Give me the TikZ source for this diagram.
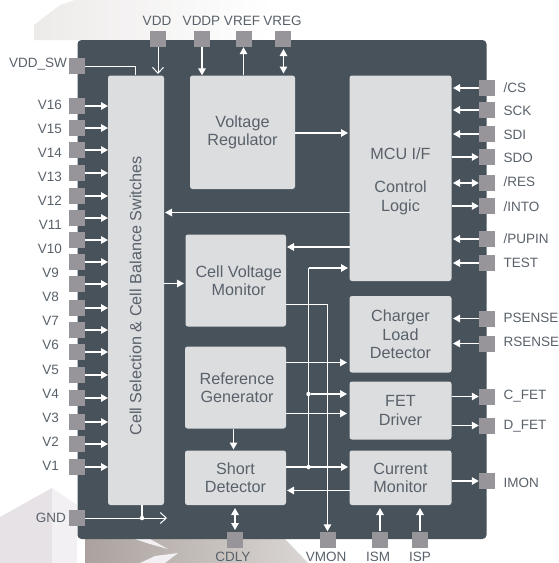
\documentclass[tikz,border=0pt]{standalone}
\usepackage{fontspec}
\setmainfont{Liberation Sans}
\usetikzlibrary{arrows.meta}
\definecolor{chipc}{HTML}{47525B}
\definecolor{blockc}{HTML}{DCDDDF}
\definecolor{pinc}{HTML}{98959A}
\definecolor{textc}{HTML}{59616A}
\definecolor{wmA}{HTML}{EDEBEA}
\definecolor{wmB}{HTML}{E6E2E6}
\definecolor{wmC}{HTML}{F2F0F2}
\definecolor{wmD}{HTML}{ABA29F}
\definecolor{wmE}{HTML}{DAD6D3}
\tikzset{
  x=1pt,y=-1pt,
  block/.style={fill=blockc,rounded corners=2.5pt,inner sep=0pt,align=center,text=textc,font=\fontsize{16.2}{18.5}\selectfont},
  pin/.style={fill=pinc,minimum size=16pt,inner sep=0pt,draw=none},
  lab/.style={text=textc,font=\fontsize{13.5}{15}\selectfont,inner sep=0pt},
  sig/.style={draw=white,line width=1.3pt,-{Triangle[length=7pt,width=7.5pt]}},
  dbl/.style={draw=white,line width=1.3pt,{Triangle[length=7pt,width=7.5pt]}-{Triangle[length=7pt,width=7.5pt]}},
  opn/.style={draw=white,line width=1pt,-{Straight Barb[length=6pt,width=11pt,line width=1pt]}},
  wire/.style={draw=white,line width=1pt},
  jdot/.style={fill=white,circle,minimum size=4.5pt,inner sep=0pt}
}
\newcommand{\boxnode}[6]{\node[block,minimum width=#4pt-#2pt,minimum height=#5pt-#3pt] (#1) at ({(#2+#4)/2},{(#3+#5)/2}) {#6};}
\begin{document}
\begin{tikzpicture}
\useasboundingbox (0,0) rectangle (558,563);
\fill[white] (0,0) rectangle (558,563);
% faint background picture
\shade[left color=wmA,right color=white] (34,25) -- (60,5) -- (75,0) -- (272,0) -- (262,40) -- (34,40) -- cycle;
\fill[wmB] (0,517) -- (52,488) -- (52,563) -- (0,563) -- cycle;
\fill[wmC] (52,488) -- (77,505) -- (77,563) -- (52,563) -- cycle;
\shade[left color=wmD,right color=wmE] (85,539) -- (285,539) -- (308,563) -- (85,563) -- cycle;
\fill[wmC] (135,539) -- (150,539) -- (168,549) -- (150,544) -- cycle;
\fill[wmC] (140,563) -- (155,556) -- (178,553) -- (165,563) -- cycle;
% chip
\fill[chipc,rounded corners=4pt] (77.5,40) -- (486.5,40) -- (486.5,539) -- (77.5,539) -- cycle;
% blocks
\boxnode{cell}{108}{75.5}{164}{505}{}
\node[text=textc,rotate=90,font=\fontsize{16.2}{18}\selectfont,inner sep=0pt] (celltxt) at (135.5,296) {Cell Selection \& Cell Balance Switches};
\boxnode{vreg}{190}{75.5}{295}{189}{Voltage\\Regulator}
\boxnode{mcu}{349.5}{75.5}{451.5}{281}{\rule{0pt}{17.6pt}MCU I/F\\[15pt]Control\\Logic}
\boxnode{cvm}{185.5}{234.5}{286}{326.5}{\hspace*{6pt}Cell Voltage\\\hspace*{6pt}Monitor}
\boxnode{ref}{185}{346.5}{286}{428.5}{\hspace*{3pt}Reference\\\hspace*{3pt}Generator}
\boxnode{short}{185}{450.5}{286}{505}{Short\\Detector}
\boxnode{charger}{349.5}{296}{451.5}{372.5}{Charger\\Load\\Detector}
\boxnode{fet}{349.5}{381.5}{451.5}{439.5}{FET\\Driver}
\boxnode{cur}{349.5}{450.5}{451.5}{505}{Current\\Monitor}
% left pins
\node[pin] (vddsw) at (77,66) {};
\node[lab,anchor=east] (lvddsw) at (67,64.5) {VDD\_SW};
\foreach \n/\y in {a/106,b/128,c/150,d/173,e/196,f/218,g/240,h/262,i/284,j/308,k/330,l/352,m/375,n/398,o/422,p/444,q/467}{
  \node[pin] (pin\n) at (77,\y) {};
  \coordinate (c\n) at (108,\y);
  \draw[sig] (pin\n.east) -- (c\n);
}
\foreach \t/\y/\xx in {V16/105/62,V15/129/62,V14/153/62,V13/177/62,V12/201/62,V11/225/62,V10/249/62,V9/273/59,V8/297/59,V7/321/59,V6/345/59,V5/369.5/59,V4/393.5/59,V3/418/59,V2/442/59,V1/466/59}{
  \node[lab,anchor=east] at (\xx,\y) {\t};
}
\node[pin] (gnd) at (77,518) {};
\node[lab,anchor=east] (lgnd) at (66,518) {GND};
% top pins
\node[pin] (vdd) at (158,39) {};
\node[pin] (vddp) at (202,39) {};
\node[pin] (vrefp) at (243.5,39) {};
\node[pin] (vregp) at (283,39) {};
\node[lab] (lvdd) at (157,21) {VDD};
\node[lab] (lvddp) at (201.5,21) {VDDP};
\node[lab] (lvref) at (242,21) {VREF};
\node[lab] (lvreg) at (282.5,21) {VREG};
% right pins
\foreach \n/\t/\y/\ly in {cs/{/CS}/88/88,sck/SCK/110/111,sdi/SDI/134/135,sdo/SDO/157/158,res/{/RES}/183/182,into/{/INTO}/206/207,pupin/{/PUPIN}/239/239,test/TEST/263/263,psense/PSENSE/318.5/318,rsense/RSENSE/343.5/342,cfet/C\_FET/396.5/396,dfet/D\_FET/425.5/426,imon/IMON/481/483}{
  \node[pin] (\n) at (487,\y) {};
  \node[lab,anchor=west] at (503.5,\ly) {\t};
}
% bottom pins
\node[pin] (cdly) at (235,540) {};
\node[pin] (vmon) at (327.5,539.5) {};
\node[pin] (ism) at (380,539.5) {};
\node[pin] (isp) at (420,539.5) {};
\node[lab] (lcdly) at (233,556.5) {CDLY};
\node[lab] (lvmon) at (326,556.5) {VMON};
\node[lab] (lism) at (378,556.5) {ISM};
\node[lab] (lisp) at (420,556.5) {ISP};
% helper coordinates
\coordinate (bus) at (308.5,467);
\coordinate (busf) at (308.5,394);
\coordinate (bust) at (308.5,268);
\coordinate (j1) at (135,66);
\coordinate (j2) at (327.5,304);
\coordinate (gj) at (142,518);
\coordinate (ge) at (167,518);
% top connectors
\draw[wire] (vddsw.east) -- (j1) -- (j1 |- cell.north);
\draw[opn] (vdd.south) -- (158,74);
\draw[sig] (vddp.south) -- (vddp |- vreg.north);
\draw[sig] (vrefp |- vreg.north) -- (vrefp.south);
\draw[dbl] (283.5,73.5) -- (283.5,49);
% internal
\draw[sig] (295,133) -- (348,133);
\draw[sig] (349.5,212.5) -- (165,212.5);
\draw[sig] (349.5,247) -- (287,247);
\draw[sig] (164,283.5) -- (184,283.5);
\draw[wire] (bus) -- (bust);
\draw[sig] (bust) -- (348,268);
\node[jdot] (jd1) at (busf) {};
\node[jdot] (jd2) at (bus) {};
\draw[sig] (jd1) -- (347,394);
\draw[sig] (286,467) -- (348,467);
\draw[wire] (286,304) -- (j2);
\draw[sig] (j2) -- (vmon.north);
\draw[sig] (286,362.5) -- (347,362.5);
\draw[sig] (286,413.5) -- (347,413.5);
\draw[sig] (233.5,428.5) -- (233.5,449.5);
\draw[sig] (349.5,490.5) -- (287,490.5);
\draw[dbl] (235,508) -- (235,530);
\draw[sig] (ism.north) -- (380,508);
\draw[sig] (isp.north) -- (420,508);
% right connectors
\draw[sig] (cs.west) -- (453,88);
\draw[sig] (sck.west) -- (453,110);
\draw[sig] (sdi.west) -- (453,134);
\draw[sig] (mcu.east |- sdo) -- (sdo.west);
\draw[dbl] (453,183) -- (res.west);
\draw[sig] (mcu.east |- into) -- (into.west);
\draw[sig] (pupin.west) -- (453,239);
\draw[sig] (test.west) -- (453,263);
\draw[sig] (psense.west) -- (453,318.5);
\draw[sig] (rsense.west) -- (453,343.5);
\draw[sig] (fet.east |- cfet) -- (cfet.west);
\draw[sig] (fet.east |- dfet) -- (dfet.west);
\draw[sig] (cur.east |- imon) -- (imon.west);
% ground
\draw[opn] (gnd.east) -- (ge);
\draw[wire,line width=1.3pt] (gj) -- (gj |- cell.south);
\node[jdot] (jd3) at (gj) {};
\end{tikzpicture}
\end{document}
